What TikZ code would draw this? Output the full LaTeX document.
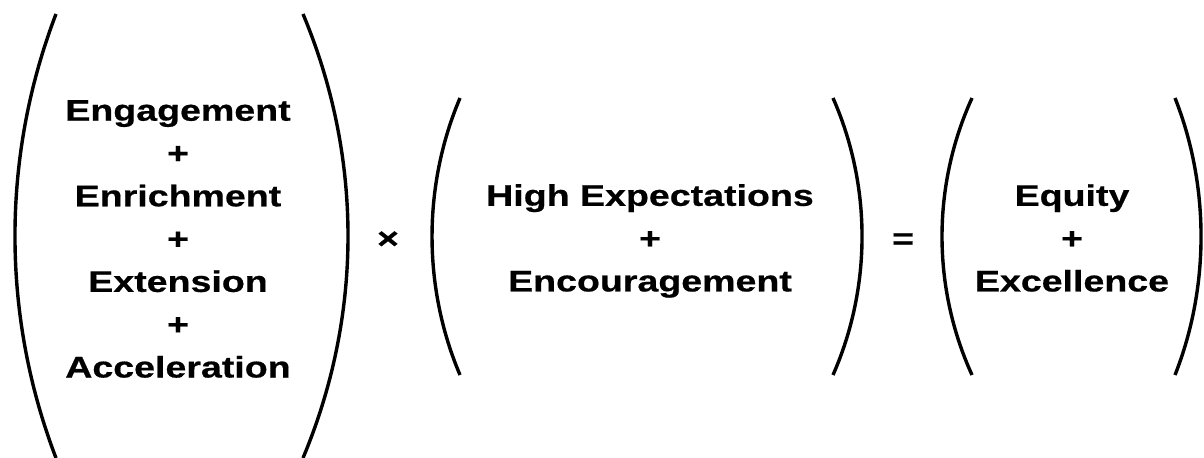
\documentclass[tikz,border=0pt]{standalone}
\usepackage{fontspec}
\newfontfamily\eqfont[FakeStretch=1.26,FakeBold=0.6]{Liberation Sans}
\usepackage{tikz}

\begin{document}
\begin{tikzpicture}[x=0.5pt,y=-0.5pt,
  term/.style={align=center,inner sep=0pt,font=\eqfont\bfseries\fontsize{14.9pt}{21.4pt}\selectfont},
  op/.style={inner sep=0pt,font=\eqfont\bfseries\fontsize{14.9pt}{21.4pt}\selectfont},
  paren/.style={line width=1.7pt}
]
  \useasboundingbox (0,0) rectangle (1204,458);
  % terms
  \node[term] (supports) at (178,239) {Engagement\\+\\Enrichment\\+\\Extension\\+\\Acceleration};
  \node[term] (beliefs)  at (650,241) {High Expectations\\+\\Encouragement};
  \node[term] (outcome)  at (1072,238) {Equity\\+\\Excellence};
  \node[op] (times) at (388,240) {×};
  \node[op] (equals) at (903,241) {=};
  % brackets
  \draw[paren] (56,14) .. controls (1.3,157) and (1.3,315) .. (56,458);
  \draw[paren] (303,14) .. controls (363,157) and (363,315) .. (303,458);
  \draw[paren] (460,98) .. controls (422.7,186) and (422.7,287) .. (460,375);
  \draw[paren] (833,98) .. controls (871.7,186) and (871.7,287) .. (833,375);
  \draw[paren] (972,98) .. controls (932,186) and (932,287) .. (972,375);
  \draw[paren] (1175,98) .. controls (1209.7,186) and (1209.7,287) .. (1175,375);
\end{tikzpicture}
\end{document}
